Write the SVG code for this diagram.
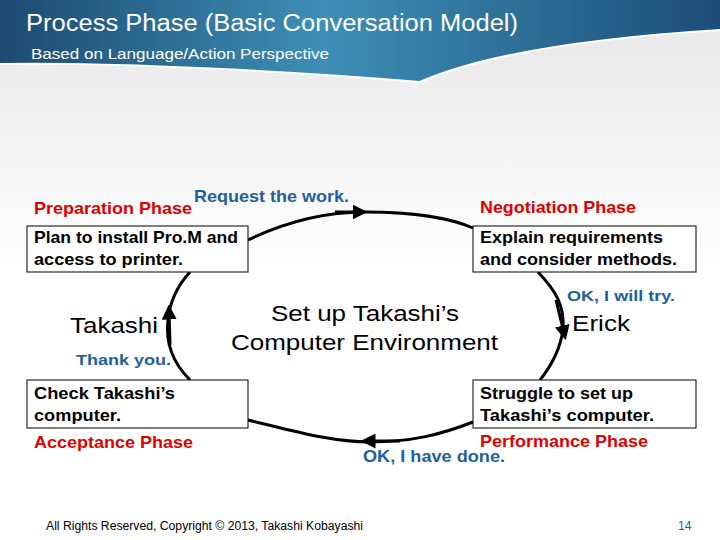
<svg xmlns="http://www.w3.org/2000/svg" width="720" height="540" viewBox="0 0 720 540">
<defs>
<linearGradient id="hd" x1="0" y1="0" x2="1" y2="0"><stop offset="0" stop-color="#1d4a72"/><stop offset="0.45" stop-color="#3d8fb5"/><stop offset="1" stop-color="#1c4d78"/></linearGradient>
<linearGradient id="bg" x1="0" y1="0" x2="0" y2="1"><stop offset="0" stop-color="#e6e6e6"/><stop offset="0.5" stop-color="#ffffff"/><stop offset="1" stop-color="#ffffff"/></linearGradient>
<marker id="ah" viewBox="0 0 10 10" refX="5" refY="5" markerWidth="5" markerHeight="5" orient="auto"><path d="M0,0 L10,5 L0,10 z" fill="#000"/></marker>
<style>
text{font-family:"Liberation Sans",Arial,sans-serif;font-weight:bold}
.ph{fill:#e00000;font-size:17px}
.sp{fill:#1f5f9c;font-size:17px}
.bx{fill:#fff;stroke:#000;stroke-width:1}
.bt{fill:#000;font-size:17px}
.c{fill:none;stroke:#000;stroke-width:3}
</style>
</defs>
<rect width="720" height="540" fill="url(#bg)"/>
<path d="M0,0 H720 V30 C560,40 470,60 420,82 C300,72 120,62 0,64 Z" fill="url(#hd)"/>
<path d="M0,64 C120,62 300,72 420,82 C470,60 560,40 720,30" fill="none" stroke="#fff" stroke-width="2"/>
<text x="26" y="31" fill="#fff" textLength="492" lengthAdjust="spacingAndGlyphs" style="font-weight:normal;font-size:23px">Process Phase (Basic Conversation Model)</text>
<text x="31" y="59" fill="#fff" textLength="298" lengthAdjust="spacingAndGlyphs" style="font-weight:normal;font-size:15px">Based on Language/Action Perspective</text>
<g id="connectors">
<path class="c" d="M248,240 C300,215 340,212 365,212 C420,212 455,220 473,228"/>
<path class="c" d="M335,212 L360,212" marker-end="url(#ah)"/>
<path class="c" d="M538,272 C555,290 565,305 563,330"/>
<path class="c" d="M556,300 L564,333" marker-end="url(#ah)"/>
<path class="c" d="M563,330 C560,350 552,365 540,380"/>
<path class="c" d="M473,422 C440,435 410,442 370,442 C330,442 290,430 248,420"/>
<path class="c" d="M400,441 L368,441" marker-end="url(#ah)"/>
<path class="c" d="M190,380 C175,365 165,345 168,320 C170,300 178,285 190,272"/>
<path class="c" d="M170,345 L169,312" marker-end="url(#ah)"/>
</g>
<g id="preparation">
<text class="ph" x="34" y="214" textLength="158" lengthAdjust="spacingAndGlyphs">Preparation Phase</text>
<text class="sp" x="194" y="202" textLength="155" lengthAdjust="spacingAndGlyphs">Request the work.</text>
<rect class="bx" x="27" y="226" width="221" height="46"/>
<text class="bt" x="34" y="243" textLength="204" lengthAdjust="spacingAndGlyphs">Plan to install Pro.M and</text>
<text class="bt" x="34" y="265" textLength="149" lengthAdjust="spacingAndGlyphs">access to printer.</text>
</g>
<g id="negotiation">
<text class="ph" x="480" y="213" textLength="156" lengthAdjust="spacingAndGlyphs">Negotiation Phase</text>
<rect class="bx" x="473" y="226" width="223" height="46"/>
<text class="bt" x="480" y="243" textLength="183" lengthAdjust="spacingAndGlyphs">Explain requirements</text>
<text class="bt" x="480" y="265" textLength="197" lengthAdjust="spacingAndGlyphs">and consider methods.</text>
<text class="sp" x="567" y="301" textLength="108" lengthAdjust="spacingAndGlyphs" style="font-size:15px">OK, I will try.</text>
<text x="572" y="331" textLength="58" lengthAdjust="spacingAndGlyphs" style="font-size:22px;font-weight:normal">Erick</text>
</g>
<g id="takashi">
<text x="70" y="333" textLength="88" lengthAdjust="spacingAndGlyphs" style="font-size:22px;font-weight:normal">Takashi</text>
<text class="sp" x="76" y="365" textLength="95" lengthAdjust="spacingAndGlyphs" style="font-size:15px">Thank you.</text>
</g>
<g id="center">
<text x="271" y="321" textLength="188" lengthAdjust="spacingAndGlyphs" style="font-size:22px;font-weight:normal">Set up Takashi’s</text>
<text x="231" y="350" textLength="267" lengthAdjust="spacingAndGlyphs" style="font-size:22px;font-weight:normal">Computer Environment</text>
</g>
<g id="acceptance">
<rect class="bx" x="27" y="380" width="221" height="48"/>
<text class="bt" x="34" y="399" textLength="141" lengthAdjust="spacingAndGlyphs">Check Takashi’s</text>
<text class="bt" x="34" y="421" textLength="87" lengthAdjust="spacingAndGlyphs">computer.</text>
<text class="ph" x="34" y="448" textLength="159" lengthAdjust="spacingAndGlyphs">Acceptance Phase</text>
</g>
<g id="performance">
<rect class="bx" x="473" y="380" width="223" height="48"/>
<text class="bt" x="480" y="399" textLength="153" lengthAdjust="spacingAndGlyphs">Struggle to set up</text>
<text class="bt" x="480" y="421" textLength="174" lengthAdjust="spacingAndGlyphs">Takashi’s computer.</text>
<text class="ph" x="480" y="447" textLength="168" lengthAdjust="spacingAndGlyphs">Performance Phase</text>
<text class="sp" x="363" y="462" textLength="142" lengthAdjust="spacingAndGlyphs">OK, I have done.</text>
</g>
<text x="46" y="530" textLength="317" lengthAdjust="spacingAndGlyphs" style="font-weight:normal;font-size:12px">All Rights Reserved, Copyright © 2013,  Takashi Kobayashi</text>
<text x="678" y="530" fill="#2a5f96" style="font-weight:normal;font-size:12px">14</text>
</svg>
